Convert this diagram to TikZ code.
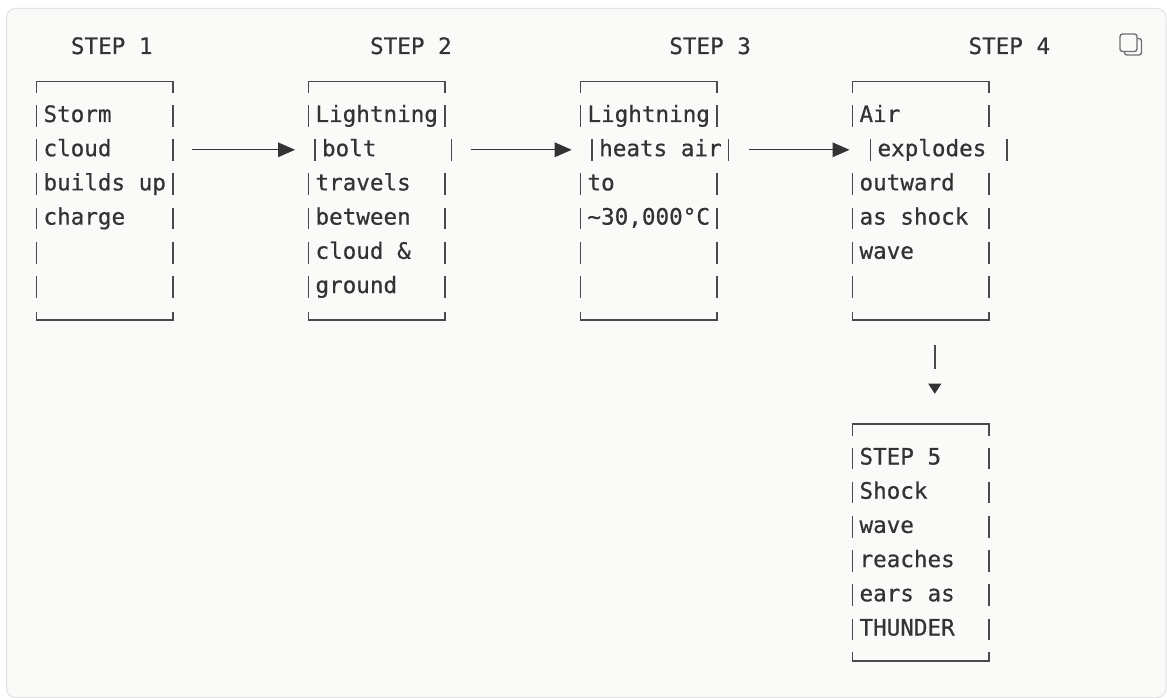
\documentclass[tikz,border=0pt]{standalone}
\usepackage{fontspec}
\newfontfamily\mono[FakeBold=0.6]{DejaVu Sans Mono}
\usetikzlibrary{arrows.meta,calc,fit}

\definecolor{ink}{HTML}{333333}
\definecolor{rulec}{HTML}{4A4A4A}
\definecolor{panel}{HTML}{FAFAF8}
\definecolor{edgec}{HTML}{E2E2E2}
\definecolor{iconc}{HTML}{707070}

\tikzset{
  frame/.style={draw=rulec, line width=1.5pt},
  cell/.style={anchor=base west, inner sep=0pt, text=ink,
               font=\mono\fontsize{22.6}{27}\selectfont},
  flow/.style={draw=ink, line width=1.4pt, -{Triangle[length=17pt,width=14.6pt]}},
  area/.style={inner sep=0pt},
}

% top and bottom rules of a step box, with their corner ticks
\newcommand\stepframe[1]{%
  \draw[frame] ($(#1.north west)+(0,11.8)$) -- (#1.north west) -- (#1.north east) -- ++(0,11.8);
  \draw[frame] ($(#1.south west)+(0,-8.5)$) -- (#1.south west) -- (#1.south east) -- ++(0,-8.5);
}
% side bars of one text row: box, row, horizontal shift
\newcommand\rowbars[3]{%
  \path ($(#1.north west)+(#3,{40.7+34.2*(#2-1)})$) coordinate (#1base#2);
  \draw[frame] ($(#1base#2)+(0,-17)$) -- ++(0,21.7);
  \draw[frame] ($(#1.north east |- #1base#2)+(#3,-17)$) -- ++(0,21.7);
}
% text of one row
\newcommand\rowtext[3]{%
  \node[cell] (#1t#2) at ($(#1base#2)+(6.8,0)$) {#3};
}

\begin{document}
\begin{tikzpicture}[x=1pt,y=-1pt]
\useasboundingbox (0,0) rectangle (1167,698);
\fill[white] (0,0) rectangle (1167,698);
\draw[draw=edgec, fill=panel, line width=1pt, rounded corners=9pt] (6.5,8.5) rectangle (1166,697.5);

% copy icon
\draw[iconc, line width=1.4pt, rounded corners=2.5pt] (1124.5,38.5) rectangle (1141.5,55);
\filldraw[fill=panel, draw=iconc, line width=1.4pt, rounded corners=2.5pt] (1120,34) rectangle (1137,51.5);

% headings
\node[cell] (h1) at (70.7,54) {STEP 1};
\node[cell] (h2) at (369.9,54) {STEP 2};
\node[cell] (h3) at (669.1,54) {STEP 3};
\node[cell] (h4) at (968.3,54) {STEP 4};

% box areas
\path (36.7,81.5) coordinate (p1a) (172.7,320) coordinate (p1b)
      (308.7,81.5) coordinate (p2a) (444.7,320) coordinate (p2b)
      (580.7,81.5) coordinate (p3a) (716.7,320) coordinate (p3b)
      (852.7,81.5) coordinate (p4a) (988.7,320) coordinate (p4b)
      (852.7,424) coordinate (p5a) (988.7,660.7) coordinate (p5b);
\node[area, fit=(p1a)(p1b)] (s1) {};
\node[area, fit=(p2a)(p2b)] (s2) {};
\node[area, fit=(p3a)(p3b)] (s3) {};
\node[area, fit=(p4a)(p4b)] (s4) {};
\node[area, fit=(p5a)(p5b)] (s5) {};

\foreach \b in {s1,s2,s3,s4,s5} {\stepframe{\b}}

% step 1
\rowbars{s1}{1}{0}\rowtext{s1}{1}{Storm}
\rowbars{s1}{2}{0}\rowtext{s1}{2}{cloud}
\rowbars{s1}{3}{0}\rowtext{s1}{3}{builds up}
\rowbars{s1}{4}{0}\rowtext{s1}{4}{charge}
\rowbars{s1}{5}{0}
\rowbars{s1}{6}{0}

% step 2
\rowbars{s2}{1}{0}\rowtext{s2}{1}{Lightning}
\rowbars{s2}{2}{6.5}\rowtext{s2}{2}{bolt}
\rowbars{s2}{3}{0}\rowtext{s2}{3}{travels}
\rowbars{s2}{4}{0}\rowtext{s2}{4}{between}
\rowbars{s2}{5}{0}\rowtext{s2}{5}{cloud \&}
\rowbars{s2}{6}{0}\rowtext{s2}{6}{ground}

% step 3
\rowbars{s3}{1}{0}\rowtext{s3}{1}{Lightning}
\rowbars{s3}{2}{11.7}\rowtext{s3}{2}{heats air}
\rowbars{s3}{3}{0}\rowtext{s3}{3}{to}
\rowbars{s3}{4}{0}\rowtext{s3}{4}{\textasciitilde30,000°C}
\rowbars{s3}{5}{0}
\rowbars{s3}{6}{0}

% step 4
\rowbars{s4}{1}{0}\rowtext{s4}{1}{Air}
\rowbars{s4}{2}{18}\rowtext{s4}{2}{explodes}
\rowbars{s4}{3}{0}\rowtext{s4}{3}{outward}
\rowbars{s4}{4}{0}\rowtext{s4}{4}{as shock}
\rowbars{s4}{5}{0}\rowtext{s4}{5}{wave}
\rowbars{s4}{6}{0}

% step 5
\rowbars{s5}{1}{0}\rowtext{s5}{1}{STEP 5}
\rowbars{s5}{2}{0}\rowtext{s5}{2}{Shock}
\rowbars{s5}{3}{0}\rowtext{s5}{3}{wave}
\rowbars{s5}{4}{0}\rowtext{s5}{4}{reaches}
\rowbars{s5}{5}{0}\rowtext{s5}{5}{ears as}
\rowbars{s5}{6}{0}\rowtext{s5}{6}{THUNDER}

% connectors
\draw[flow] ($(s1.north east)+(19.2,68.5)$) -- ($(s2.north west)+(-13.5,68.5)$);
\draw[flow] ($(s2.north east)+(26,68.5)$) -- ($(s3.north west)+(-8.8,68.5)$);
\draw[flow] ($(s3.north east)+(31.7,68.5)$) -- ($(s4.north west)+(-3,68.5)$);
\draw[frame] ($(s4.south west)+(82.3,25)$) -- ++(0,23.3);
\fill[ink] ($(s4.south west)+(75.6,63.3)$) -- ++(13.4,0) -- ($(s5.north west)+(82.3,-30)$) -- cycle;
\end{tikzpicture}
\end{document}
